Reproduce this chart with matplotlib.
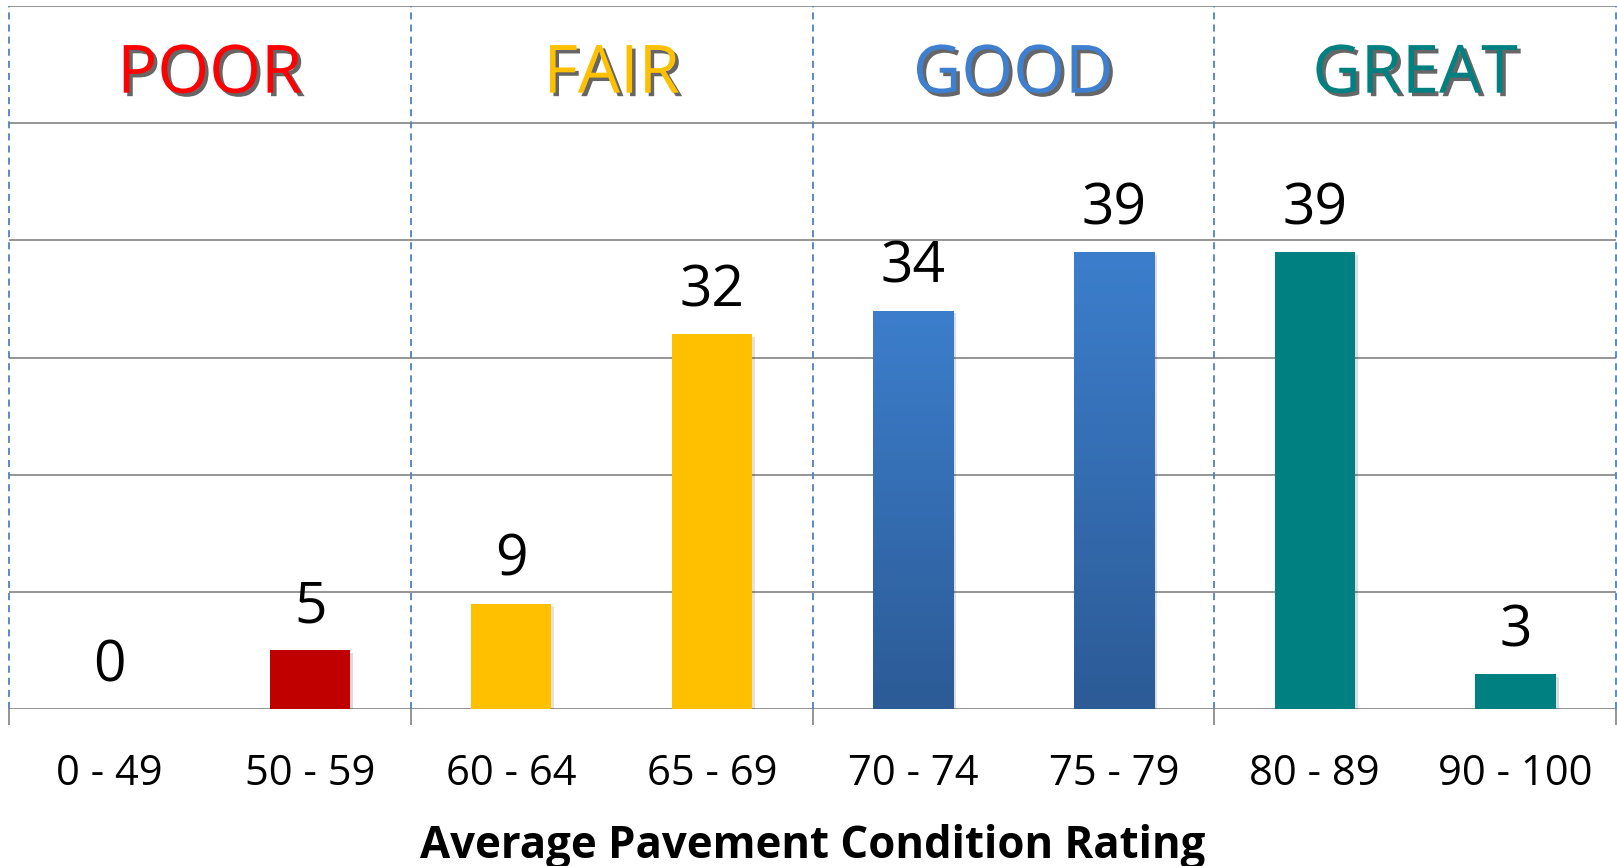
import numpy as np
import matplotlib
matplotlib.use("Agg")
import matplotlib.pyplot as plt
import matplotlib.patheffects as pe
from matplotlib.colors import LinearSegmentedColormap

# rating ranges and number of segments in each
ranges = ["0 - 49", "50 - 59", "60 - 64", "65 - 69", "70 - 74", "75 - 79", "80 - 89", "90 - 100"]
counts = [0, 5, 9, 32, 34, 39, 39, 3]
groups = ["POOR", "FAIR", "GOOD", "GREAT"]
group_of = [0, 0, 1, 1, 2, 2, 3, 3]

title_colors = ["#FF0000", "#FFC000", "#3F7FCF", "#008080"]
bar_colors = ["#C00000", "#FFC000", "#3A7BC8", "#008080"]
grid_gray = "#8C8C8C"

plt.rcParams['font.family'] = ['Open Sans', 'DejaVu Sans']

W, H = 1617, 866
fig = plt.figure(figsize=(W / 100, H / 100), dpi=100)
ax = fig.add_axes([9 / W, 1 - 709 / H, 1607 / W, 703 / H])

x = np.arange(len(ranges))
bars = ax.bar(x, counts, width=0.4, color=[bar_colors[g] for g in group_of], zorder=3)

# blue bars have a vertical gradient
blue_grad = LinearSegmentedColormap.from_list("blue_grad", ["#2C5B96", "#3C7ECC"])
for b, g in zip(bars, group_of):
    b.set_path_effects([pe.withSimplePatchShadow(offset=(2, -2), alpha=0.15)])
    if g == 2:
        x0 = b.get_x()
        img = ax.imshow(np.linspace(0, 1, 200).reshape(-1, 1), cmap=blue_grad, origin='lower',
                        extent=[x0, x0 + b.get_width(), 0, b.get_height()],
                        aspect='auto', zorder=3.5)
        img.set_clip_path(b)

ax.set_xlim(-0.5, 7.5)
ax.set_ylim(0, 60)

# gridlines
ax.set_yticks(range(0, 61, 10))
ax.yaxis.grid(True, color=grid_gray, lw=1.3, zorder=1)
ax.set_axisbelow(True)
ax.tick_params(axis='y', length=0, labelleft=False)
for s in ax.spines.values():
    s.set_visible(False)

# dashed separators between groups
seps = [-0.5, 1.5, 3.5, 5.5, 7.5]
for sx in seps:
    ax.plot([sx, sx], [0, 60], color="#4F81BD", lw=1.3, ls=(0, (3.9, 2.8)),
            clip_on=False, zorder=2)

ax.set_xticks(x, ranges, fontsize=30)
ax.set_xticks(seps, minor=True)
ax.tick_params(axis='x', which='major', length=0, pad=32)
ax.tick_params(axis='x', which='minor', length=11.5, width=1.3, color=grid_gray)

# value labels
for xi, v in zip(x, counts):
    ax.annotate(str(v), (xi, v), xytext=(0, 20), textcoords='offset points',
                ha='center', va='baseline', fontsize=41)

# group titles
for i, name in enumerate(groups):
    ax.text(2 * i + 0.5, 52.6, name, ha='center', va='baseline', fontsize=48,
            color=title_colors[i],
            path_effects=[pe.withSimplePatchShadow(offset=(2.5, -2.5), shadow_rgbFace='k', alpha=0.6)])

fig.text(812.5 / W, 1 - 858 / H, "Average Pavement Condition Rating", ha='center',
         va='baseline', fontsize=31.5, fontweight='bold')

fig.savefig("out.png", dpi=100)
